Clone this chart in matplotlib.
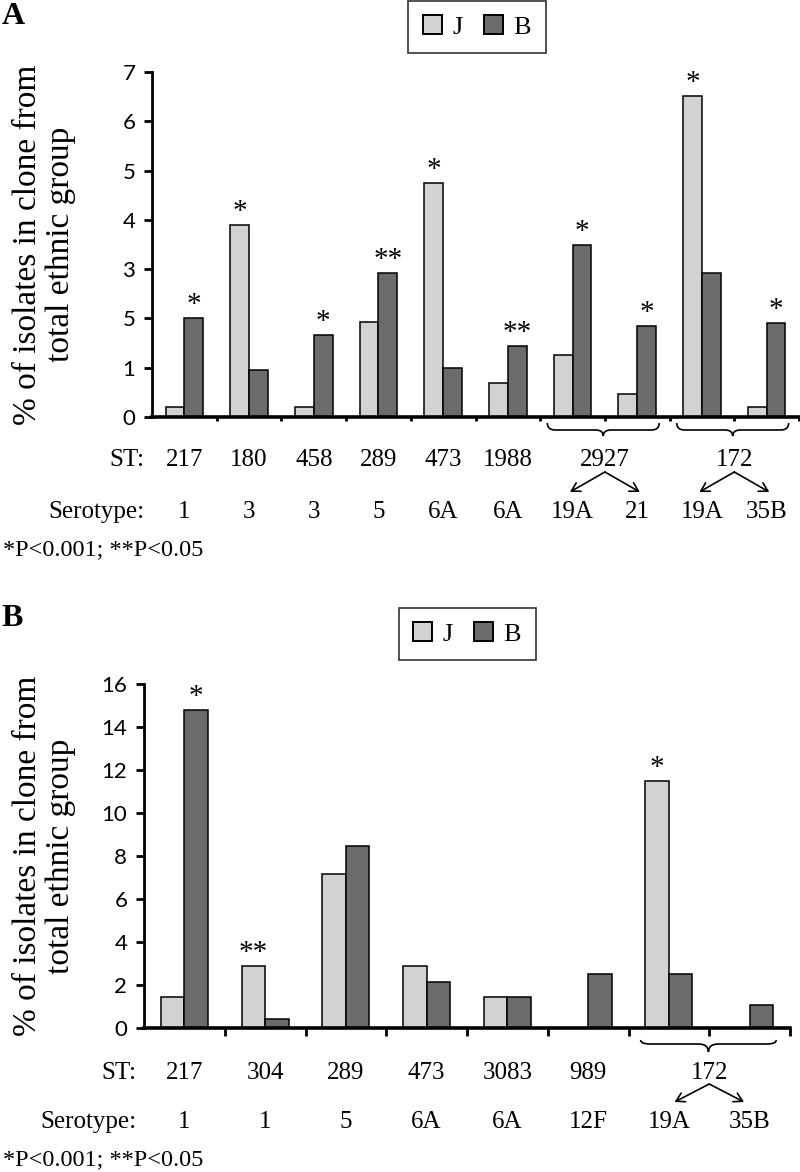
import matplotlib
matplotlib.use('Agg')
import matplotlib.pyplot as plt
import matplotlib.transforms as mtransforms
from matplotlib.path import Path
from matplotlib.patches import PathPatch, Patch, FancyArrowPatch
import numpy as np

# panel A data
a_sero = ['1', '3', '3', '5', '6A', '6A', '19A', '21', '19A', '35B']
a_st = ['217', '180', '458', '289', '473', '1988', '2927', '172']
a_span = [1, 1, 1, 1, 1, 1, 2, 2]
a_j = [0.2, 3.9, 0.2, 1.93, 4.74, 0.69, 1.25, 0.46, 6.51, 0.2]
a_b = [2.0, 0.95, 1.67, 2.93, 1.0, 1.45, 3.49, 1.85, 2.93, 1.91]
a_j_sig = ['', '*', '', '', '*', '', '', '', '*', '']
a_b_sig = ['*', '', '*', '**', '', '**', '*', '*', '', '*']
a_yticks = ['0', '1', '5', '3', '4', '5', '6', '7']

# panel B data
b_sero = ['1', '1', '5', '6A', '6A', '12F', '19A', '35B']
b_st = ['217', '304', '289', '473', '3083', '989', '172']
b_span = [1, 1, 1, 1, 1, 1, 2]
b_j = [1.46, 2.9, 7.16, 2.9, 1.45, 0, 11.49, 0]
b_b = [14.8, 0.42, 8.48, 2.13, 1.45, 2.5, 2.5, 1.07]
b_j_sig = ['', '**', '', '', '', '', '*', '']
b_b_sig = ['*', '', '', '', '', '', '', '']
b_yticks = ['0', '2', '4', '6', '8', '10', '12', '14', '16']

W, H = 800, 1172
SERIF = 'Liberation Serif'
SANS = 'Lato'
CJ = '#d2d2d2'
CB = '#6b6b6b'

fig = plt.figure(figsize=(W / 100, H / 100), dpi=100)


def fy(py):
    return 1 - py / H


def brace(ax, tr, x0, x1, yt, ym, yb, r=0.12):
    xc = (x0 + x1) / 2
    verts = [(x0, fy(yt)),
             (x0, fy(ym)), (x0 + r, fy(ym)),
             (xc - r, fy(ym)),
             (xc, fy(ym)), (xc, fy(yb)),
             (xc, fy(ym)), (xc + r, fy(ym)),
             (x1 - r, fy(ym)),
             (x1, fy(ym)), (x1, fy(yt))]
    codes = [Path.MOVETO, Path.CURVE3, Path.CURVE3, Path.LINETO,
             Path.CURVE3, Path.CURVE3, Path.CURVE3, Path.CURVE3,
             Path.LINETO, Path.CURVE3, Path.CURVE3]
    p = PathPatch(Path(verts, codes), transform=tr, fill=False, lw=1.2,
                  edgecolor='black', clip_on=False)
    ax.add_artist(p)


def panel(rect, j, b, jsig, bsig, sero, st, span, ymax, ystep, ylabels,
          tick_len, y_st, y_sero, y_p, y_brace, y_arrow, arrow_dx,
          brace_ends, leg_xy, letter, letter_xy):
    ax = fig.add_axes(rect)
    n = len(j)
    x = np.arange(n) + 0.5
    w = 0.29
    ax.bar(x - w, j, w, align='edge', color=CJ, edgecolor='black', lw=1.1)
    ax.bar(x, b, w, align='edge', color=CB, edgecolor='black', lw=1.1)
    for i in range(n):
        if jsig[i]:
            ax.annotate(jsig[i], (x[i] - w / 2, j[i]), xytext=(0, 0),
                        textcoords='offset points', ha='center', va='bottom',
                        fontsize=21, family=SERIF)
        if bsig[i]:
            ax.annotate(bsig[i], (x[i] + w / 2, b[i]), xytext=(0, 0),
                        textcoords='offset points', ha='center', va='bottom',
                        fontsize=21, family=SERIF)
    ax.set_xlim(0, n)
    ax.set_ylim(0, ymax)
    ax.set_yticks(np.arange(0, ymax + 0.01, ystep))
    ax.set_yticklabels(ylabels, family=SANS, fontsize=16)
    ax.set_xticks(np.arange(1, n + 1))
    ax.set_xticklabels([])
    ax.spines['top'].set_visible(False)
    ax.spines['right'].set_visible(False)
    ax.spines['left'].set_linewidth(2)
    ax.spines['bottom'].set_linewidth(2.6)
    ax.tick_params(axis='y', direction='out', length=6, width=2, pad=6)
    ax.tick_params(axis='x', direction='out', length=tick_len, width=2)

    tr = mtransforms.blended_transform_factory(ax.transData, fig.transFigure)
    # ST row
    pos = 0
    for k, s in enumerate(st):
        c = pos + span[k] / 2
        ax.text(c, fy(y_st), s, transform=tr, ha='center', va='center',
                fontsize=18, family=SERIF)
        if span[k] > 1:
            x0, x1 = brace_ends
            brace(ax, tr, pos + x0, pos + span[k] - x1, *y_brace)
            for d in (-arrow_dx, arrow_dx):
                arr = FancyArrowPatch((c, fy(y_arrow[0])), (c + d, fy(y_arrow[1])),
                                      transform=tr, arrowstyle='->,head_length=6,head_width=3.5',
                                      lw=1.2, color='black', clip_on=False,
                                      shrinkA=0, shrinkB=0)
                ax.add_artist(arr)
        pos += span[k]
    for i, s in enumerate(sero):
        ax.text(x[i], fy(y_sero), s, transform=tr, ha='center', va='center',
                fontsize=18, family=SERIF)
    fig.text(rect[0] - 0.01, fy(y_st), 'ST:', ha='right', va='center',
             fontsize=18, family=SERIF)
    fig.text(rect[0] - 0.01, fy(y_sero), 'Serotype:', ha='right', va='center',
             fontsize=18, family=SERIF)
    fig.text(3 / W, fy(y_p), '*P<0.001; **P<0.05', ha='left', va='center',
             fontsize=17.5, family=SERIF)
    fig.text(letter_xy[0] / W, fy(letter_xy[1]), letter, ha='center', va='center',
             fontsize=23, fontweight='bold', family=SERIF)
    cy = rect[1] + rect[3] / 2
    fig.text(44 / W, cy, '% of isolates in clone from\ntotal ethnic group',
             rotation=90, ha='center', va='center', multialignment='center',
             fontsize=24, family=SERIF, linespacing=1.1)
    handles = [Patch(facecolor=CJ, edgecolor='black', lw=1.4, label='J'),
               Patch(facecolor=CB, edgecolor='black', lw=1.4, label='B')]
    leg = fig.legend(handles=handles, loc='center', ncol=2,
                     bbox_to_anchor=(leg_xy[0] / W, fy(leg_xy[1])),
                     bbox_transform=fig.transFigure, fancybox=False,
                     prop={'family': SERIF, 'size': 19}, handlelength=0.72,
                     handleheight=0.72, handletextpad=0.4, columnspacing=0.8,
                     borderpad=0.55, edgecolor='#333333', framealpha=1)
    leg.get_frame().set_linewidth(1.2)
    return ax


panel([152 / W, fy(417), (799 - 152) / W, (417 - 72) / H],
      a_j, a_b, a_j_sig, a_b_sig, a_sero, a_st, a_span, 7, 1, a_yticks,
      3, 460, 512, 550, (423, 430, 436), (472, 492), 0.54, (0.11, 0.16),
      (477, 27), 'A', (13, 16))

panel([144 / W, fy(1028), (790 - 144) / W, (1028 - 684) / H],
      b_j, b_b, b_j_sig, b_b_sig, b_sero, b_st, b_span, 16, 2, b_yticks,
      6, 1073, 1122, 1160, (1040, 1044, 1052), (1084, 1102), 0.43, (0.15, 0.17),
      (467, 634), 'B', (12, 619))

plt.savefig('out.png', dpi=100)
